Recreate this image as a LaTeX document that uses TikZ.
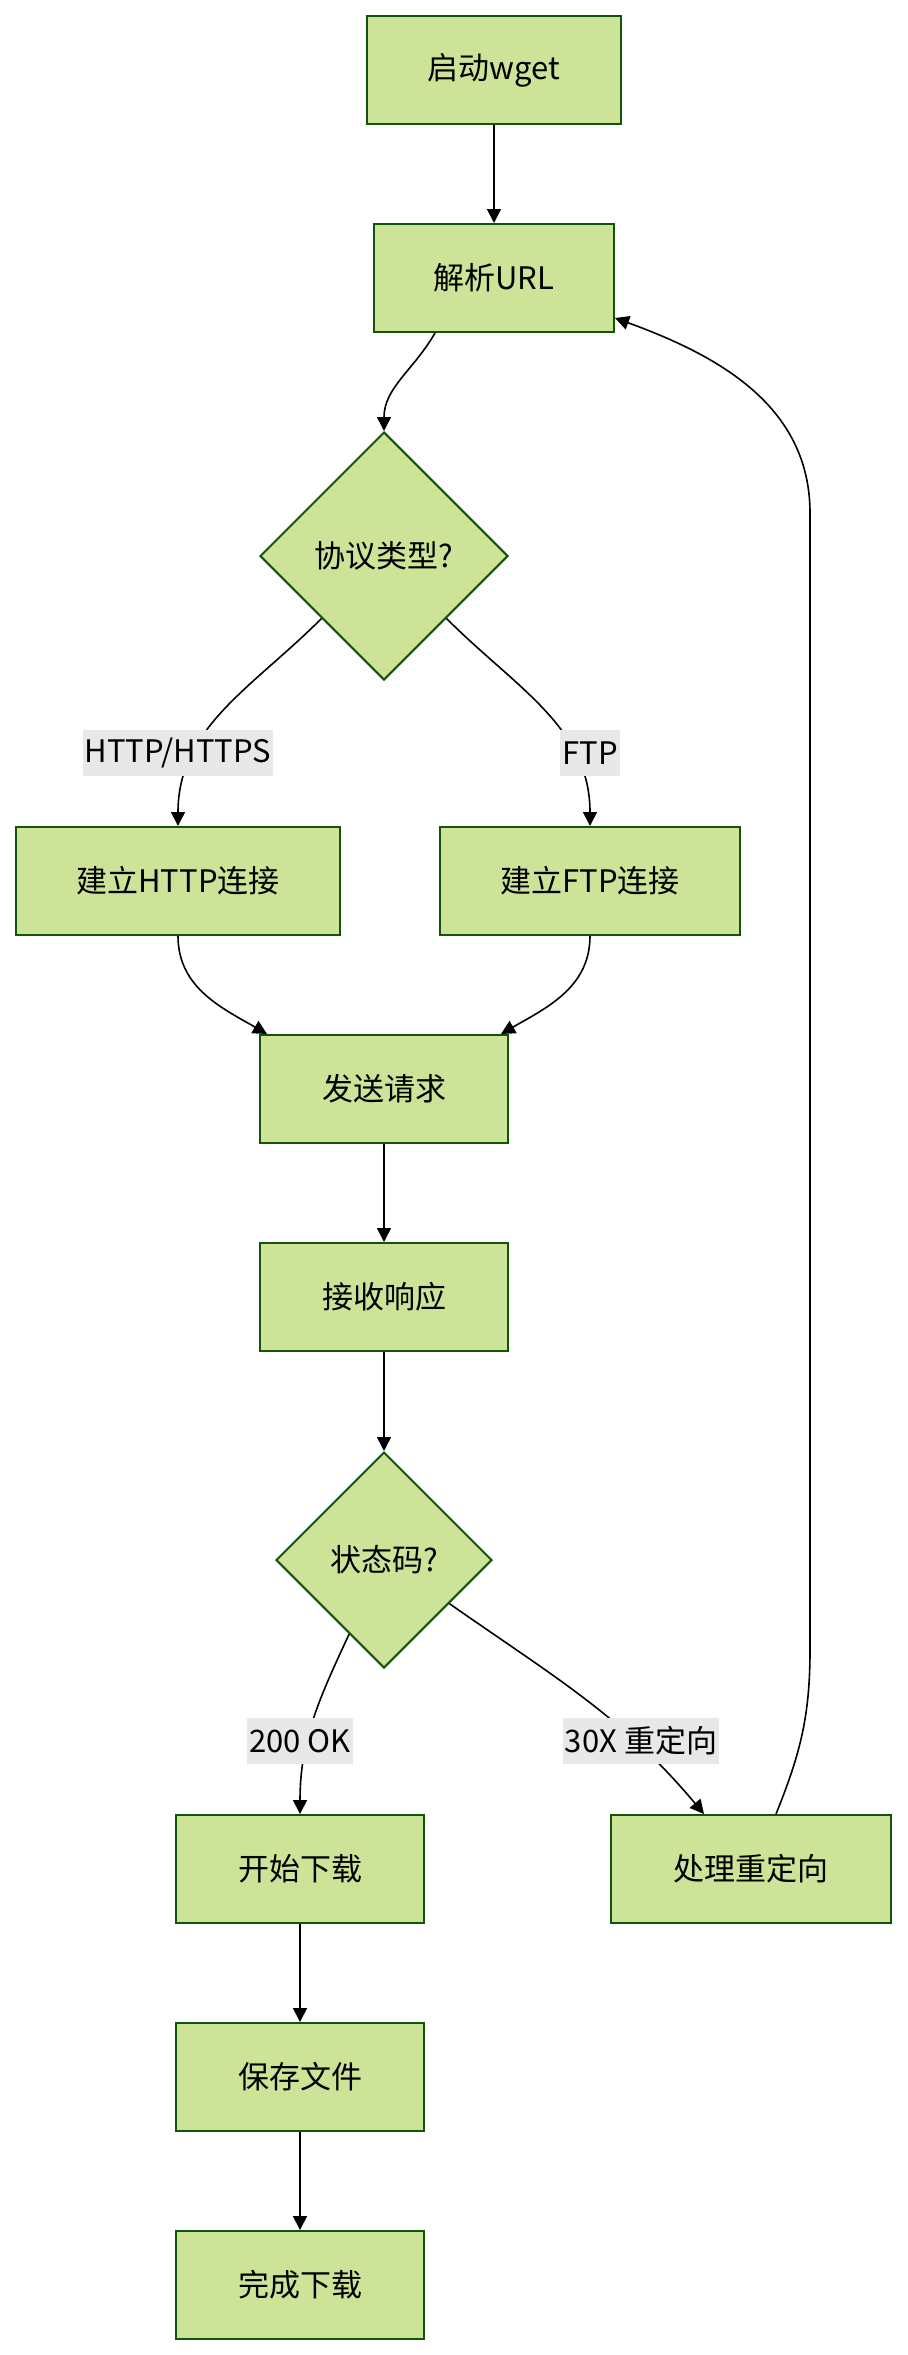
\documentclass[tikz,border=0pt]{standalone}
\usepackage{fontspec}
\setmainfont{Noto Sans CJK SC}
\usetikzlibrary{shapes.geometric,arrows.meta,calc}
\definecolor{boxfill}{HTML}{CDE498}
\definecolor{boxline}{HTML}{13540C}
\definecolor{lblfill}{HTML}{E8E8E8}

\begin{document}
\begin{tikzpicture}[
		x=0.5pt, y=-0.5pt,
		every node/.style={font=\fontsize{15.5}{18}\selectfont},
		box/.style={rectangle,draw=boxline,fill=boxfill,line width=1pt,minimum height=54pt,inner sep=0pt},
		decision/.style={diamond,draw=boxline,fill=boxfill,line width=1pt,inner sep=0pt,aspect=1},
		lbl/.style={fill=lblfill,inner xsep=1pt,inner ysep=0pt,minimum height=23pt},
		arr/.style={-{Triangle[length=7pt,width=7pt]},line width=0.8pt},
		link/.style={line width=0.8pt}
		]
		\useasboundingbox (0,0) rectangle (907,2355);
		\node[box,minimum width=127pt] (start) at (494,70) {启动wget};
		\node[box,minimum width=120pt] (parse) at (494,278) {解析URL};
		\node[decision,minimum width=124pt,minimum height=124pt] (proto) at (384,556) {协议类型?};
		\node[box,minimum width=162pt] (http) at (178,881) {建立HTTP连接};
		\node[box,minimum width=150pt] (ftp) at (590,881) {建立FTP连接};
		\node[box,minimum width=124pt] (send) at (384,1089) {发送请求};
		\node[box,minimum width=124pt] (recv) at (384,1297) {接收响应};
		\node[decision,minimum width=108pt,minimum height=108pt] (status) at (384,1560) {状态码?};
		\node[box,minimum width=124pt] (dl) at (300,1869) {开始下载};
		\node[box,minimum width=140pt] (redir) at (751,1869) {处理重定向};
		\node[box,minimum width=124pt] (save) at (300,2077) {保存文件};
		\node[box,minimum width=124pt] (done) at (300,2285) {完成下载};
		\coordinate (loopB) at (810,1650);
		\coordinate (loopT) at (810,513);
		
		\draw[arr] (start) -- (parse);
		\draw[arr] ($(parse.south)+(-59,0)$) to[out=-120,in=90] (proto.north);
		\draw[arr] (proto.south west) to[out=-135,in=90] (http.north);
		\draw[arr] (proto.south east) to[out=-45,in=90] (ftp.north);
		\draw[arr] (http.south) to[out=-90,in=150] ($(send.north west)+(8,0)$);
		\draw[arr] (ftp.south) to[out=-90,in=30] ($(send.north east)+(-8,0)$);
		\draw[arr] (send) -- (recv);
		\draw[arr] (recv) -- (status);
		\draw[arr] ($(status.south)!0.32!(status.west)$) to[out=-115,in=90] (dl.north);
		\draw[arr] ($(status.east)!0.4!(status.south)$) to[out=-35,in=130] ($(redir.north)+(-47,0)$);
		\draw[arr] ($(redir.north)+(25,0)$) to[out=68,in=-90] (loopB) -- (loopT) to[out=90,in=-20] ($(parse.south east)+(0,-15)$);
		\draw[arr] (dl) -- (save);
		\draw[arr] (save) -- (done);
		
		\node[lbl] (lhttp) at (178,753) {HTTP/HTTPS};
		\node[lbl] (lftp) at (590,753) {FTP};
		\node[lbl] (lok) at (300,1741) {200 OK};
		\node[lbl] (lredir) at (641,1741) {30X 重定向};
\end{tikzpicture}
\end{document}
